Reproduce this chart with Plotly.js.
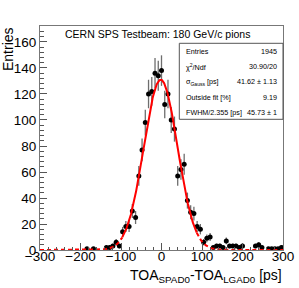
<!DOCTYPE html>
<html>
<head>
<meta charset="utf-8">
<script src="https://cdn.plot.ly/plotly-3.0.1.min.js"></script>
<style>html,body{margin:0;padding:0;background:#fff;}#chart{width:299px;height:288px;}</style>
</head>
<body>
<div id="chart"></div>
<script>
// Histogram bin centres (ps) of non-empty bins, bin width 8 ps
var binCenters = [-184,-168,-136,-128,-120,-112,-104,-96,-88,-80,-72,-64,-56,-48,-40,-32,-24,-16,-8,0,8,16,24,32,40,48,56,64,72,80,88,96,104,112,120,128,136,144,152,160,168,176,184,192,200,232,240,248,264,272,280,288,296];
var binCounts  = [1,1,2,2,3,6,3,14,18,18,30,25,57,77,98,120,122,136,134,138,112,120,100,93,57,62,66,38,29,28,18,16,6,9,10,2,3,3,2,7,3,3,3,2,3,3,4,2,1,1,1,1,2];

// Gaussian fit parameters
var fitAmp = 131, fitMean = -2, fitSigma = 41.62;
var fitLow = -97, fitHigh = 87;

// Stats box
var statLabels = ["Entries", "\u03c7<sup>2</sup>/Ndf", "\u03c3<sub>Gauss</sub> [ps]", "Outside fit [%]", "FWHM/2.355 [ps]"];
var statValues = ["1945", "30.90/20", "41.62 \u00b1 1.13", "9.19", "45.73 \u00b1 1"];

var titleText = "CERN SPS Testbeam: 180 GeV/c pions";
var xTitle = "TOA<sub>SPAD0</sub>-TOA<sub>LGAD0</sub> [ps]";
var yTitle = "Entries";

var errs = binCounts.map(function(v){ return Math.sqrt(v); });

function gaus(x){ return fitAmp*Math.exp(-0.5*Math.pow((x-fitMean)/fitSigma,2)); }
function curve(a,b,step){ var xs=[],ys=[]; for(var x=a;x<=b+1e-9;x+=step){xs.push(x);ys.push(gaus(x));} if(xs[xs.length-1]<b){xs.push(b);ys.push(gaus(b));} return {x:xs,y:ys}; }
var cL = curve(-300, fitLow, 2), cM = curve(fitLow, fitHigh, 1), cR = curve(fitHigh, 300, 2);

var FONT = "Liberation Sans, Arial, Helvetica, sans-serif";

var traces = [
  {x: binCenters, y: binCounts, type:'scatter', mode:'markers',
   marker:{color:'#000', size:5},
   error_y:{type:'data', array: errs, visible:true, color:'#6e6e6e', thickness:1.3, width:0},
   hoverinfo:'skip'},
  {x:cL.x, y:cL.y, mode:'lines', line:{color:'#ff0000', width:2, dash:'4px,3px'}, hoverinfo:'skip'},
  {x:cR.x, y:cR.y, mode:'lines', line:{color:'#ff0000', width:2, dash:'4px,3px'}, hoverinfo:'skip'},
  {x:cM.x, y:cM.y, mode:'lines', line:{color:'#ff0000', width:2}, hoverinfo:'skip'}
];

// plot area in pixels
var L=40, R=283, T=26, B=250;
function px(x){ return (x-L)/(R-L); }
function py(y){ return (B-y)/(B-T); }

var ann = [];
ann.push({text:titleText, xref:'paper', yref:'paper', x:px(157), y:py(34), xanchor:'center', yanchor:'middle', showarrow:false, font:{family:FONT, size:10.5, color:'#000'}});
ann.push({text:xTitle, xref:'paper', yref:'paper', x:px(284), y:py(276), xanchor:'right', yanchor:'middle', showarrow:false, font:{family:FONT, size:14, color:'#000'}});
ann.push({text:yTitle, xref:'paper', yref:'paper', x:px(8), y:py(25), xanchor:'center', yanchor:'top', textangle:-90, showarrow:false, font:{family:FONT, size:14, color:'#000'}});
var rowY = [51.7, 66.7, 81.7, 97.7, 112.7];
for (var i=0;i<statLabels.length;i++){
  ann.push({text:statLabels[i], xref:'paper', yref:'paper', x:px(184), y:py(rowY[i]), xanchor:'left', yanchor:'middle', showarrow:false, font:{family:FONT, size:7.2, color:'#000'}});
  ann.push({text:statValues[i], xref:'paper', yref:'paper', x:px(279), y:py(rowY[i]), xanchor:'right', yanchor:'middle', showarrow:false, font:{family:FONT, size:7.2, color:'#000'}});
}

var layout = {
  width:299, height:288,
  margin:{l:L, r:299-R, t:T, b:288-B, pad:0},
  paper_bgcolor:'#fff', plot_bgcolor:'#fff',
  showlegend:false,
  xaxis:{range:[-300,300], dtick:100, tick0:-300, ticks:'inside', ticklen:7, tickcolor:'#555', tickwidth:1,
         minor:{dtick:20, ticks:'inside', ticklen:3.5, tickcolor:'#555'},
         showgrid:false, zeroline:false, showline:true, mirror:true, linecolor:'#777', linewidth:1,
         ticklabelstandoff:-6,
         tickfont:{family:FONT, size:13.5, color:'#000'}, tickformat:'d'},
  yaxis:{range:[0,172.3], dtick:20, tick0:0, ticks:'inside', ticklen:7, tickcolor:'#555', tickwidth:1,
         minor:{dtick:4, ticks:'inside', ticklen:3.5, tickcolor:'#555'},
         showgrid:false, zeroline:false, showline:true, mirror:true, linecolor:'#777', linewidth:1,
         tickfont:{family:FONT, size:13.5, color:'#000'}},
  shapes:[{type:'rect', xref:'paper', yref:'paper', x0:px(179.3), x1:px(283), y0:py(119.3), y1:py(43.3),
           line:{color:'#555', width:1}, fillcolor:'#fff', layer:'above'}],
  annotations: ann
};

Plotly.newPlot('chart', traces, layout, {staticPlot:true, displayModeBar:false});
</script>
</body>
</html>
